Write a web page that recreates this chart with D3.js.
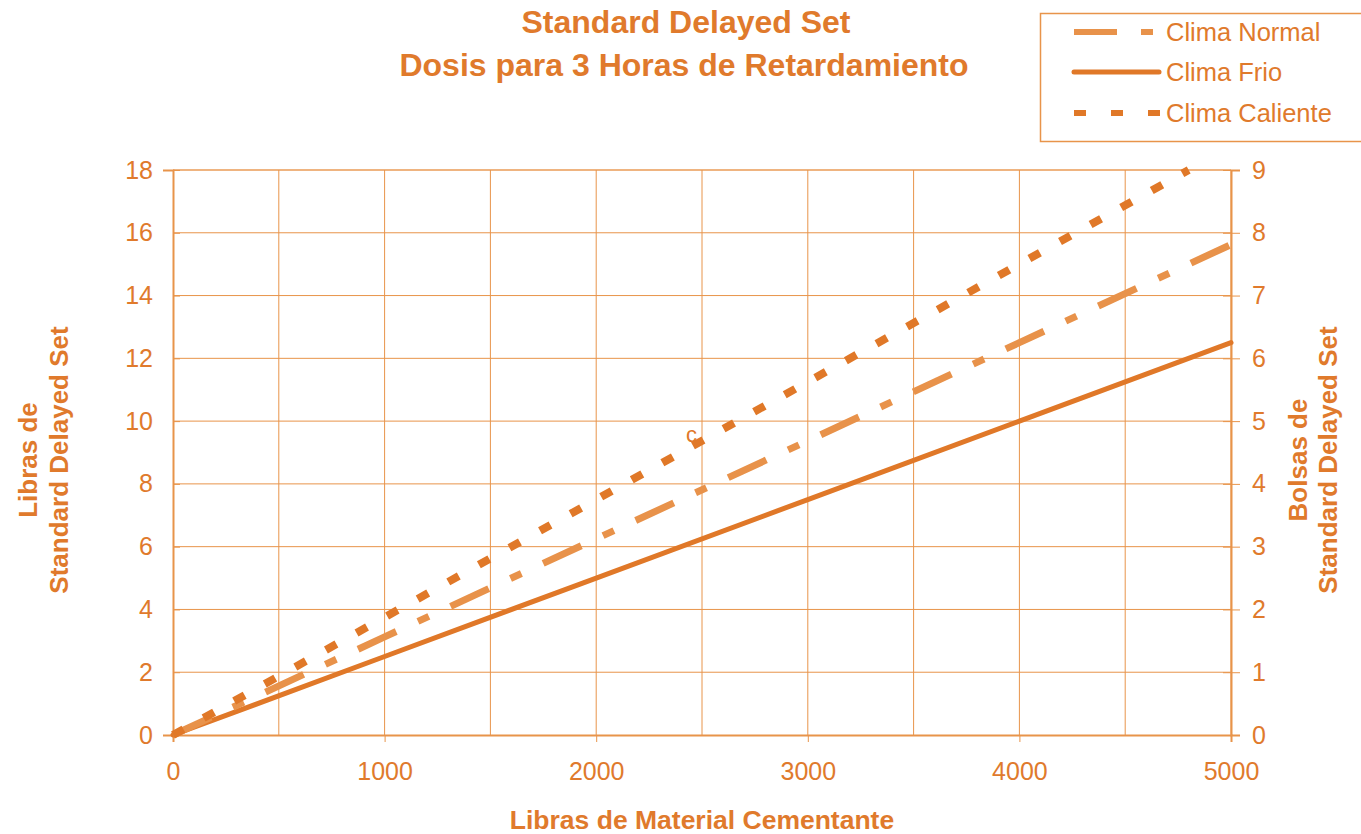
<!DOCTYPE html>
<html><head><meta charset="utf-8">
<script src="https://cdn.jsdelivr.net/npm/d3@7"></script>
<style>body{margin:0;background:#fff}svg{display:block;font-family:"Liberation Sans",Arial,sans-serif}</style>
</head><body><svg id="c" width="1361" height="834"></svg>
<script>
const xTicks = [0, 1000, 2000, 3000, 4000, 5000];
const xGrid = [500, 1000, 1500, 2000, 2500, 3000, 3500, 4000, 4500, 5000];
const yTicksLeft = [0, 2, 4, 6, 8, 10, 12, 14, 16, 18];
const yTicksRight = [0, 1, 2, 3, 4, 5, 6, 7, 8, 9];
const seriesNames = ["Clima Normal", "Clima Frio", "Clima Caliente"];
const cemento = [0, 1000, 2000, 3000, 4000, 5000];
const normal = [0, 3.125, 6.25, 9.375, 12.5, 15.625];
const frio = [0, 2.5, 5, 7.5, 10, 12.5];
const calienteX = [0, 1000, 2000, 3000, 4000, 4800];
const caliente = [0, 3.75, 7.5, 11.25, 15, 18];

const svg = d3.select("#c");
const TXT = "#E07A2C", GRID = "#E8944A", C_DARK = "#E07828", C_LIGHT = "#E8924A";
const L = 173, R = 1231, T = 170, B = 735;
const x = d3.scaleLinear().domain([0, 5000]).range([L, R]);
const y = d3.scaleLinear().domain([0, 18]).range([B, T]);
const y2 = d3.scaleLinear().domain([0, 9]).range([B, T]);

// grid
svg.append("g").selectAll("line").data(xGrid).join("line")
  .attr("x1", d => x(d)).attr("x2", d => x(d)).attr("y1", T).attr("y2", B)
  .attr("stroke", GRID).attr("stroke-width", 1);
svg.append("g").selectAll("line").data(yTicksLeft.slice(1)).join("line")
  .attr("x1", L).attr("x2", R).attr("y1", d => y(d)).attr("y2", d => y(d))
  .attr("stroke", GRID).attr("stroke-width", d => d === 18 ? 2 : 1)
  .attr("stroke-opacity", d => d === 18 ? 0.7 : 1);

// left axis
const gl = svg.append("g").attr("transform", `translate(${L},0)`)
  .call(d3.axisLeft(y).tickValues(yTicksLeft).tickSize(10).tickPadding(10));
gl.select(".domain").attr("stroke", GRID).attr("stroke-width", 2);
gl.selectAll(".tick line").attr("stroke", GRID).attr("x2", 7);
gl.selectAll("text").attr("fill", TXT).style("font-size", "25px");

// right axis
const gr = svg.append("g").attr("transform", `translate(${R},0)`)
  .call(d3.axisRight(y2).tickValues(yTicksRight).tickSize(9).tickPadding(12));
gr.select(".domain").attr("stroke", GRID).attr("stroke-width", 2);
gr.selectAll(".tick line").attr("stroke", GRID).attr("x1", -8);
gr.selectAll("text").attr("fill", TXT).style("font-size", "25px");

// bottom axis
const gb = svg.append("g").attr("transform", `translate(0,${B})`)
  .call(d3.axisBottom(x).tickValues(xTicks).tickSize(7).tickPadding(20).tickFormat(d3.format("d")));
gb.select(".domain").attr("stroke", GRID).attr("stroke-width", 2);
gb.selectAll(".tick line").attr("stroke", GRID);
gb.selectAll("text").attr("fill", TXT).style("font-size", "25px");

// lines
const line = d3.line().x(d => x(d[0])).y(d => y(d[1]));
svg.append("path").datum(cemento.map((c, i) => [c, frio[i]])).attr("d", line)
  .attr("fill", "none").attr("stroke", C_DARK).attr("stroke-width", 5).attr("stroke-linecap", "round");
svg.append("path").datum(cemento.map((c, i) => [c, normal[i]])).attr("d", line)
  .attr("fill", "none").attr("stroke", C_LIGHT).attr("stroke-width", 7).attr("stroke-dasharray", "42 24 12 24");
svg.append("path").datum(calienteX.map((c, i) => [c, caliente[i]])).attr("d", line)
  .attr("fill", "none").attr("stroke", C_DARK).attr("stroke-width", 8).attr("stroke-dasharray", "12 23");

// stray glyph
svg.append("text").attr("x", x(2450)).attr("y", y(9.35)).attr("text-anchor", "middle")
  .attr("fill", C_DARK).style("font-size", "22px").text("c");

// titles
const title = svg.append("text").attr("text-anchor", "middle").attr("fill", TXT)
  .style("font-weight", "bold").style("font-size", "32px");
title.append("tspan").attr("x", 686).attr("y", 33).text("Standard Delayed Set");
title.append("tspan").attr("x", 684).attr("y", 76).text("Dosis para 3 Horas de Retardamiento");

svg.append("text").attr("x", 702).attr("y", 829).attr("text-anchor", "middle").attr("fill", TXT)
  .style("font-weight", "bold").style("font-size", "26.5px").text("Libras de Material Cementante");

function yTitle(cx, gap, lines) {
  const t = svg.append("text").attr("transform", `translate(${cx},460) rotate(-90)`)
    .attr("text-anchor", "middle").attr("fill", TXT).style("font-weight", "bold").style("font-size", "26px");
  lines.forEach((s, i) => t.append("tspan").attr("x", 0).attr("y", i * gap).text(s));
}
yTitle(37, 31, ["Libras de", "Standard Delayed Set"]);
yTitle(1307, 30, ["Bolsas de", "Standard Delayed Set"]);

// legend
const lg = svg.append("g");
lg.append("rect").attr("x", 1040.5).attr("y", 13.5).attr("width", 330).attr("height", 128)
  .attr("fill", "#fff").attr("stroke", GRID).attr("stroke-width", 1.5);
const legStyles = [
  {c: C_LIGHT, w: 6, dash: "43 24 12 24", cap: "butt"},
  {c: C_DARK, w: 5, dash: null, cap: "round"},
  {c: C_DARK, w: 6, dash: "12 25", cap: "butt"}
];
const ly = [32, 72, 113];
seriesNames.forEach((n, i) => {
  const s = legStyles[i];
  lg.append("line").attr("x1", 1074).attr("x2", i === 1 ? 1159 : 1160)
    .attr("y1", ly[i]).attr("y2", ly[i]).attr("stroke", s.c).attr("stroke-width", s.w)
    .attr("stroke-dasharray", s.dash).attr("stroke-linecap", s.cap);
  lg.append("text").attr("x", 1166).attr("y", ly[i] + 9).attr("fill", TXT)
    .style("font-size", "25.5px").text(n);
});
</script></body></html>
